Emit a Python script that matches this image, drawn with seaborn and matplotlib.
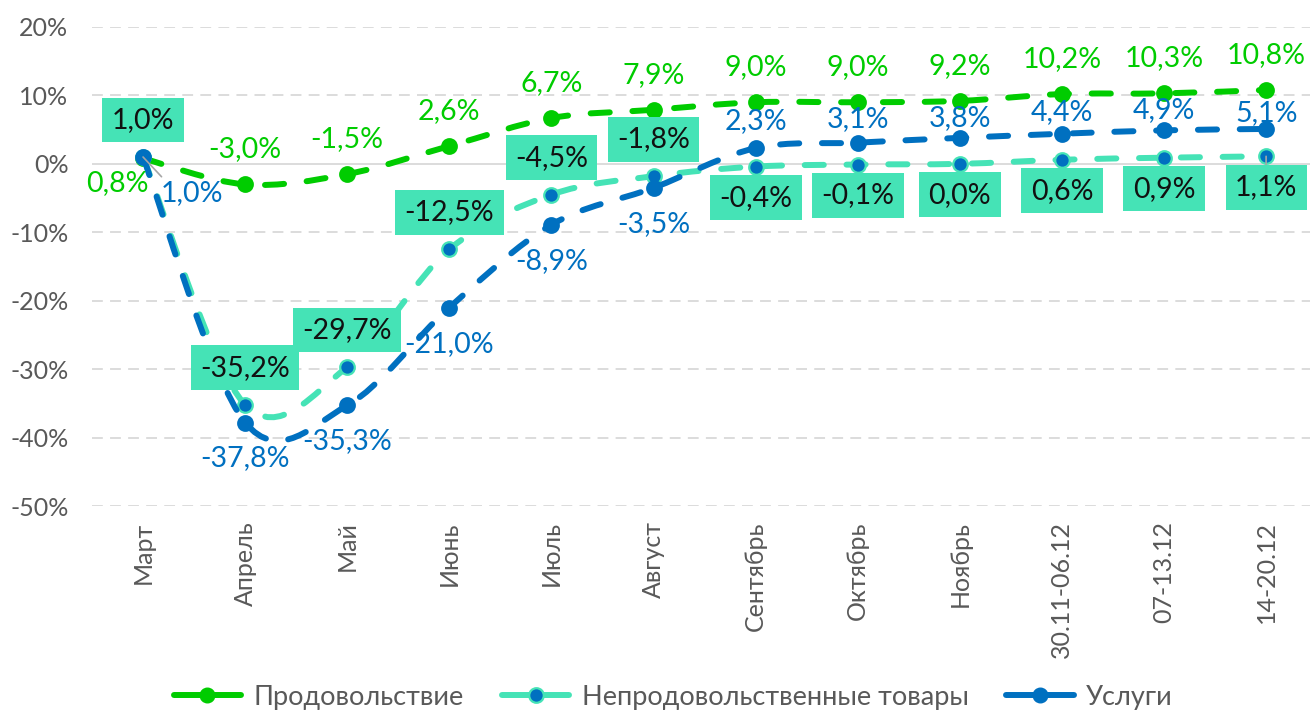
import matplotlib
matplotlib.use('Agg')
from matplotlib import pyplot as plt
from matplotlib.path import Path
from matplotlib.patches import PathPatch
from matplotlib.lines import Line2D
from matplotlib.ticker import FuncFormatter
import seaborn as sns
import pandas as pd

# ------------------------------------------------------------
# data: change vs. last year, %
# ------------------------------------------------------------
PERIODS = ['Март', 'Апрель', 'Май', 'Июнь', 'Июль', 'Август', 'Сентябрь',
           'Октябрь', 'Ноябрь', '30.11-06.12', '07-13.12', '14-20.12']
FOOD = [0.8, -3.0, -1.5, 2.6, 6.7, 7.9, 9.0, 9.0, 9.2, 10.2, 10.3, 10.8]
NON_FOOD = [1.0, -35.2, -29.7, -12.5, -4.5, -1.8, -0.4, -0.1, 0.0, 0.6, 0.9, 1.1]
SERVICES = [1.0, -37.8, -35.3, -21.0, -8.9, -3.5, 2.3, 3.1, 3.8, 4.4, 4.9, 5.1]
SERIES_NAMES = ['Продовольствие', 'Непродовольственные товары', 'Услуги']
Y_TICKS = [-50, -40, -30, -20, -10, 0, 10, 20]

GREEN = '#00CC00'
TURQ = '#45E3B6'
BLUE = '#0070C0'
GREY_TEXT = '#595959'
GRID = '#D9D9D9'

sns.set_theme(style='white')
plt.rcParams['font.family'] = ['Lato', 'DejaVu Sans']

LINE_W = 4.3
DASH = (0, (3.2, 3.8))
LABEL_SIZE = 20.5
TICK_SIZE = 18
# vertical label offsets (pixels) for the services labels placed above the points
SERVICES_ABOVE_OFFSETS = [27, 24, 20, 22, 20, 16]


def fmt_pct(v):
    return f"{v:.1f}%".replace('.', ',')


def smooth_path(xs, ys):
    """Excel-like smoothed line: Catmull-Rom segments as cubic Bezier curves."""
    n = len(xs)
    verts = [(xs[0], ys[0])]
    codes = [Path.MOVETO]
    for i in range(n - 1):
        p0 = max(i - 1, 0)
        p3 = min(i + 2, n - 1)
        c1 = (xs[i] + (xs[i + 1] - xs[p0]) / 6, ys[i] + (ys[i + 1] - ys[p0]) / 6)
        c2 = (xs[i + 1] - (xs[p3] - xs[i]) / 6, ys[i + 1] - (ys[p3] - ys[i]) / 6)
        verts += [c1, c2, (xs[i + 1], ys[i + 1])]
        codes += [Path.CURVE4] * 3
    return Path(verts, codes)


df = pd.DataFrame({'x': range(len(PERIODS)), 'period': PERIODS,
                   'food': FOOD, 'non_food': NON_FOOD, 'services': SERVICES})

fig = plt.figure(figsize=(13.1, 7.12), dpi=100)
ax = fig.add_axes([92 / 1310, 1 - 506 / 712, (1310 - 92) / 1310, (506 - 27) / 712])

# grid
for t in Y_TICKS:
    if t == 0:
        ax.axhline(t, color=GRID, lw=1.3, zorder=0)
    else:
        ax.axhline(t, color=GRID, lw=1.3, ls=(0, (6, 4)), zorder=0)

# smoothed dashed lines + markers
series = [('food', GREEN, GREEN, GREEN), ('non_food', TURQ, BLUE, TURQ), ('services', BLUE, BLUE, BLUE)]
for z, (col, lc, fc, ec) in enumerate(series):
    patch = PathPatch(smooth_path(df['x'].tolist(), df[col].tolist()), facecolor='none',
                      edgecolor=lc, lw=LINE_W, linestyle=DASH, capstyle='round', zorder=2 + z)
    ax.add_patch(patch)
    sns.scatterplot(data=df, x='x', y=col, ax=ax, s=110, color=fc, edgecolor=ec,
                    linewidth=1.6, zorder=2.5 + z, legend=False)

# data labels: food (green, above)
for i, v in enumerate(FOOD):
    off = (-26, -25) if i == 0 else (0, 35)
    ax.annotate(fmt_pct(v), (i, v), xytext=off, textcoords='offset pixels',
                ha='center', va='center', color=GREEN, fontsize=LABEL_SIZE, zorder=10)

# data labels: non-food (boxed, above until August, below afterwards)
for i, v in enumerate(NON_FOOD):
    off = (0, 37) if i <= 5 else (0, -31)
    arrow = None
    if i == len(NON_FOOD) - 1:
        arrow = dict(arrowstyle='-', color='#A6A6A6', lw=1.2, shrinkA=0, shrinkB=0, relpos=(0.5, 1.0))
    ax.annotate(fmt_pct(v), (i, v), xytext=off, textcoords='offset pixels',
                ha='center', va='center', color='#111111', fontsize=LABEL_SIZE, zorder=11,
                bbox=dict(boxstyle='square,pad=0.33', fc=TURQ, ec='none'),
                arrowprops=arrow)

# data labels: services (blue, below until August, above afterwards)
for i, v in enumerate(SERVICES):
    arrow = None
    if i == 0:
        off = (49, -36)
        arrow = dict(arrowstyle='-', color='#A6A6A6', lw=1.2, shrinkA=0, shrinkB=0, relpos=(0.1, 0.9))
    elif i <= 5:
        off = (0, -36)
    else:
        off = (0, SERVICES_ABOVE_OFFSETS[i - 6])
    ax.annotate(fmt_pct(v), (i, v), xytext=off, textcoords='offset pixels',
                ha='center', va='center', color=BLUE, fontsize=LABEL_SIZE, zorder=10,
                arrowprops=arrow)

ax.set_xlim(-0.5, 11.43)
ax.set_ylim(-50, 20)
ax.set_yticks(Y_TICKS)
ax.yaxis.set_major_formatter(FuncFormatter(lambda v, p: f"{v:.0f}%"))
ax.set_xticks(df['x'])
ax.set_xticklabels(PERIODS, rotation=90, va='top', ha='center')
ax.tick_params(axis='both', length=0, labelsize=TICK_SIZE, labelcolor=GREY_TEXT)
ax.tick_params(axis='y', pad=17)
ax.tick_params(axis='x', pad=11)
ax.set_xlabel('')
ax.set_ylabel('')
sns.despine(ax=ax, left=True, bottom=True)

handles = [
    Line2D([], [], color=GREEN, lw=LINE_W, marker='o', markersize=10.5,
           markerfacecolor=GREEN, markeredgecolor=GREEN, solid_capstyle='round'),
    Line2D([], [], color=TURQ, lw=LINE_W, marker='o', markersize=10.5,
           markerfacecolor=BLUE, markeredgecolor=TURQ, markeredgewidth=1.6, solid_capstyle='round'),
    Line2D([], [], color=BLUE, lw=LINE_W, marker='o', markersize=10.5,
           markerfacecolor=BLUE, markeredgecolor=BLUE, solid_capstyle='round'),
]
leg = fig.legend(handles, SERIES_NAMES, loc='center', bbox_to_anchor=(0.514, 1 - 697 / 712),
                 ncol=3, frameon=False, fontsize=19.5, handlelength=2.5,
                 handletextpad=0.45, columnspacing=1.4, borderaxespad=0)
for txt in leg.get_texts():
    txt.set_color(GREY_TEXT)

plt.savefig('out.png', dpi=100)
plt.close()
